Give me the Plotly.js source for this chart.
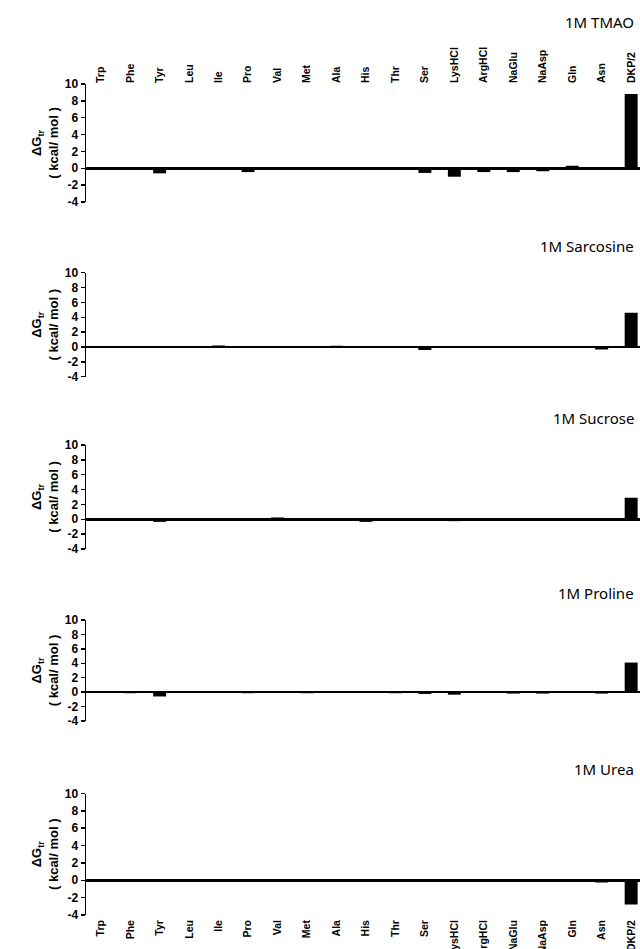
<!DOCTYPE html>
<html>
<head>
<meta charset="utf-8">
<script src="https://cdn.plot.ly/plotly-3.0.1.min.js"></script>
<style>html,body{margin:0;padding:0;background:#fff;}#chart{width:640px;height:949px;}</style>
</head>
<body>
<div id="chart"></div>
<script>
const categories = ['Trp','Phe','Tyr','Leu','Ile','Pro','Val','Met','Ala','His','Thr','Ser','LysHCl','ArgHCl','NaGlu','NaAsp','Gln','Asn','DKP/2'];
const tmao      = [-0.05, 0, -0.6, 0, -0.2, -0.45, 0.05, -0.2, -0.1, 0.1, 0.05, -0.55, -1.0, -0.45, -0.45, -0.35, 0.3, 0.1, 8.8];
const sarcosine = [0, 0, -0.1, 0, 0.2, -0.15, 0.1, 0, 0.15, 0, 0, -0.4, -0.15, -0.1, 0, 0, 0, -0.35, 4.6];
const sucrose   = [0, -0.15, -0.35, 0, 0, -0.15, 0.25, 0, 0.1, -0.35, 0.15, 0, -0.25, -0.2, -0.15, -0.1, -0.1, -0.15, 2.9];
const proline   = [0, -0.15, -0.6, 0.1, 0.05, -0.15, 0, -0.15, 0, -0.05, -0.15, -0.25, -0.35, -0.1, -0.2, -0.2, -0.1, -0.2, 4.1];
const urea      = [-0.05, -0.15, -0.05, 0, 0, 0, -0.15, -0.1, 0, -0.1, -0.1, -0.1, -0.1, 0, 0, 0.15, -0.15, -0.25, -2.8];
const panelTitles = ['1M TMAO', '1M Sarcosine', '1M Sucrose', '1M Proline', '1M Urea'];
const yTickVals = [-4, -2, 0, 2, 4, 6, 8, 10];
const yTickText = ['-4', '-2', '0', '2', '4', '6', '8', '10'];
const yTitle = 'ΔG<sub>tr</sub><br>( kcal/ mol )';

const series = [tmao, sarcosine, sucrose, proline, urea];

const W = 640, H = 949;
// pixel positions of y=10 and y=-4 for each panel
const panelPix = [[84, 202], [272.7, 376.7], [445, 549], [620, 721], [793.5, 915]];
const titleY = [22, 246, 418, 593, 769];

const data = [];
const layout = {
  width: W, height: H,
  margin: {l: 0, r: 0, t: 0, b: 0},
  paper_bgcolor: '#fff', plot_bgcolor: '#fff',
  showlegend: false,
  bargap: 0.56,
  font: {family: 'Liberation Sans, Arial, sans-serif', color: '#000'},
  annotations: []
};

series.forEach((vals, i) => {
  const n = i === 0 ? '' : String(i + 1);
  data.push({
    type: 'bar', x: categories, y: vals,
    xaxis: 'x' + n, yaxis: 'y' + n,
    marker: {color: '#000', line: {width: 0}},
    hoverinfo: 'skip'
  });
  const [p10, pm4] = panelPix[i];
  const xa = {
    domain: [86 / W, 1],
    anchor: 'y' + n,
    type: 'category',
    range: [-0.5, 18.3],
    showline: false, showgrid: false, zeroline: false,
    ticks: '',
    showticklabels: (i === 0 || i === 4),
    side: i === 0 ? 'top' : 'bottom',
    tickangle: -90,
    ticklabelstandoff: i === 0 ? 0 : 2,
    tickfont: {family: 'Liberation Sans, Arial, sans-serif', size: 10.5, weight: 'bold', color: '#000'},
    automargin: false,
    fixedrange: true
  };
  const ya = {
    domain: [1 - pm4 / H, 1 - p10 / H],
    anchor: 'x' + n,
    range: [-4, 10],
    tickmode: 'array', tickvals: yTickVals, ticktext: yTickText,
    showline: true, linecolor: '#000', linewidth: 1.5,
    ticks: 'outside', ticklen: 4, tickwidth: 1.5, tickcolor: '#000',
    showgrid: false,
    zeroline: true, zerolinecolor: '#000', zerolinewidth: 2.5,
    tickfont: {family: 'Liberation Sans, Arial, sans-serif', size: 12, weight: 'bold', color: '#000'},
    title: {text: yTitle, standoff: 3, font: {family: 'Liberation Sans, Arial, sans-serif', size: 13, weight: 'bold', color: '#000'}},
    automargin: false,
    fixedrange: true
  };
  layout['xaxis' + n] = xa;
  layout['yaxis' + n] = ya;
  layout.annotations.push({
    text: panelTitles[i], xref: 'paper', yref: 'paper',
    x: 636 / W, y: 1 - titleY[i] / H, xanchor: 'right', yanchor: 'middle',
    showarrow: false,
    font: {family: 'Noto Sans, DejaVu Sans, sans-serif', size: 15, color: '#000'}
  });
});

Plotly.newPlot('chart', data, layout, {staticPlot: true, displayModeBar: false});
</script>
</body>
</html>
